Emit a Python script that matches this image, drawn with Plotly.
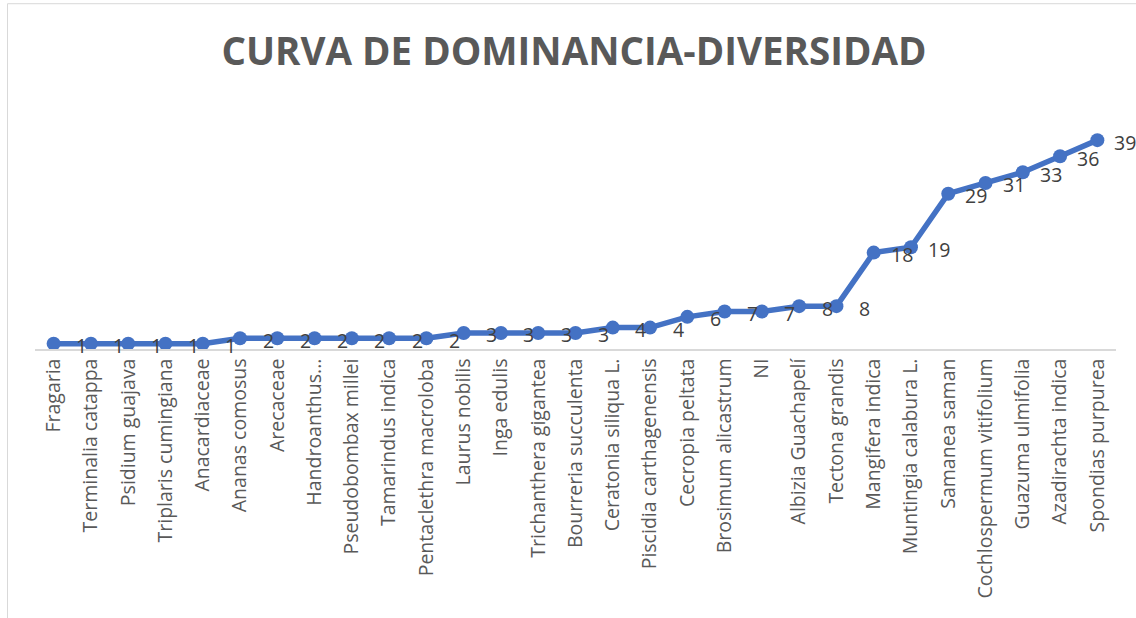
import plotly.graph_objects as go

# Especies ordenadas por abundancia
especies = [
    "Fragaria", "Terminalia catappa", "Psidium guajava", "Triplaris cumingiana",
    "Anacardiaceae", "Ananas comosus", "Arecaceae", "Handroanthus...",
    "Pseudobombax millei", "Tamarindus indica", "Pentaclethra macroloba",
    "Laurus nobilis", "Inga edulis", "Trichanthera gigantea",
    "Bourreria succulenta", "Ceratonia siliqua L.", "Piscidia carthagenensis",
    "Cecropia peltata", "Brosimum alicastrum", "NI", "Albizia Guachapelí",
    "Tectona grandis", "Mangifera indica", "Muntingia calabura L.",
    "Samanea saman", "Cochlospermum vitifolium", "Guazuma ulmifolia",
    "Azadirachta indica", "Spondias purpurea",
]
individuos = [1, 1, 1, 1, 1, 2, 2, 2, 2, 2, 2, 3, 3, 3, 3, 4, 4, 6, 7, 7,
              8, 8, 18, 19, 29, 31, 33, 36, 39]

titulo = "CURVA DE DOMINANCIA-DIVERSIDAD"

AZUL = "#4472C4"
GRIS_TEXTO = "#595959"
GRIS_ETIQ = "#404040"

fig = go.Figure()
fig.add_trace(go.Scatter(
    x=especies, y=individuos,
    mode="lines+markers",
    line=dict(color=AZUL, width=5.5),
    marker=dict(color=AZUL, size=14),
    hoverinfo="x+y",
    showlegend=False,
))

# Etiquetas de datos a la derecha de cada punto
anotaciones = [
    dict(x=e, y=v, xref="x", yref="y", text=str(v), showarrow=False,
         xshift=28, yshift=-2,
         font=dict(family="Open Sans", size=19.5, color=GRIS_ETIQ))
    for e, v in zip(especies, individuos)
]

ML, MR, MT, MB = 35, 20, 108, 268.5
W, H = 1136, 618
pw, ph = W - ML - MR, H - MT - MB

def px_x(p):
    return (p - ML) / pw

def px_y(p):
    return (H - MB - p) / ph

fig.update_layout(
    width=W, height=H,
    margin=dict(l=ML, r=MR, t=MT, b=MB, pad=0),
    paper_bgcolor="white", plot_bgcolor="white",
    title=dict(text=f"<b>{titulo}</b>", x=574 / W, xanchor="center",
               y=1 - 52 / H, yanchor="middle",
               font=dict(family="Open Sans", size=38.5, color=GRIS_TEXTO)),
    xaxis=dict(
        type="category", range=[-0.5, len(especies) - 0.5],
        showgrid=False, zeroline=False,
        showline=True, linecolor="#d9d9d9", linewidth=1.5,
        ticks="", tickangle=-90,
        tickfont=dict(family="Open Sans", size=19.5, color=GRIS_TEXTO),
    ),
    yaxis=dict(
        range=[0, 45], visible=False, showgrid=False, zeroline=False,
    ),
    annotations=anotaciones,
    shapes=[dict(type="rect", xref="paper", yref="paper",
                 x0=px_x(7.5), x1=px_x(1145), y0=px_y(630), y1=px_y(3.5),
                 line=dict(color="#d9d9d9", width=1), fillcolor="rgba(0,0,0,0)",
                 layer="below")],
)

fig.write_html("out.html")
